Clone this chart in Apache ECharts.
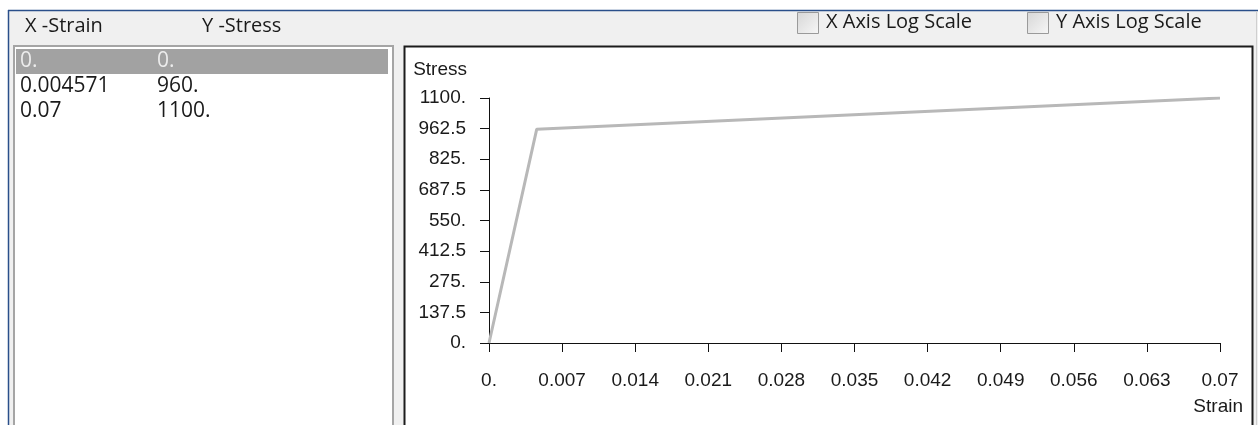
<!DOCTYPE html>
<html>
<head>
<meta charset="utf-8">
<script src="https://cdn.jsdelivr.net/npm/echarts@6/dist/echarts.min.js"></script>
<style>
  html, body { margin: 0; padding: 0; background: #ffffff; }
  #chart { width: 1258px; height: 425px; }
</style>
</head>
<body>
<div id="chart"></div>
<script>
// Material curve points (strain, stress)
const xStrain = [0, 0.004571, 0.07];
const yStress = [0, 960, 1100];

// Axis tick labels
const xTickLabels = ['0.', '0.007', '0.014', '0.021', '0.028', '0.035', '0.042', '0.049', '0.056', '0.063', '0.07'];
const yTickLabels = ['0.', '137.5', '275.', '412.5', '550.', '687.5', '825.', '962.5', '1100.'];

// Panel texts
const columnTitles = ['X -Strain', 'Y -Stress'];
const optionLabels = ['X Axis Log Scale', 'Y Axis Log Scale'];
const axisNames = ['Strain', 'Stress'];

const plotFont = '"Liberation Sans", Arial, sans-serif';
const uiFont = '"Open Sans", "Noto Sans", sans-serif';

// Values in the list are written with a trailing dot when they are whole numbers
function fmt(v) {
  return Number.isInteger(v) ? v + '.' : String(v);
}

const graphics = [];

// Dialog panel background and frame
graphics.push({ type: 'rect', z: 0, shape: { x: 8, y: 10, width: 1250, height: 420 }, style: { fill: '#f0f0f0' } });
graphics.push({ type: 'line', z: 1, shape: { x1: 8, y1: 10.5, x2: 1258, y2: 10.5 }, style: { stroke: '#2a4f8a', lineWidth: 1.5 } });
graphics.push({ type: 'line', z: 1, shape: { x1: 8.5, y1: 10, x2: 8.5, y2: 425 }, style: { stroke: '#2a4f8a', lineWidth: 1.5 } });
graphics.push({ type: 'line', z: 1, shape: { x1: 1256.5, y1: 11, x2: 1256.5, y2: 425 }, style: { stroke: '#cfcfcf', lineWidth: 1 } });

// Column headers
columnTitles.forEach(function (t, i) {
  graphics.push({ type: 'text', z: 2, style: { x: [25, 202][i], y: 26, text: t, font: '20px ' + uiFont, fill: '#1a1a1a', textVerticalAlign: 'middle' } });
});

// Log scale option checkboxes
optionLabels.forEach(function (t, i) {
  const bx = [797, 1027][i];
  graphics.push({
    type: 'rect', z: 2, shape: { x: bx + 0.5, y: 12.5, width: 21, height: 21 },
    style: {
      stroke: '#9a9a9a', lineWidth: 1,
      fill: { type: 'linear', x: 0, y: 0, x2: 1, y2: 1, colorStops: [{ offset: 0, color: '#d6d6d6' }, { offset: 1, color: '#f7f7f7' }] }
    }
  });
  graphics.push({ type: 'text', z: 2, style: { x: bx + 29, y: 22, text: t, font: '20px ' + uiFont, fill: '#1a1a1a', textVerticalAlign: 'middle' } });
});

// Data list box
graphics.push({ type: 'rect', z: 1, shape: { x: 14, y: 46, width: 379, height: 400 }, style: { fill: '#ffffff', stroke: '#a5a5a5', lineWidth: 2 } });
graphics.push({ type: 'rect', z: 2, shape: { x: 16, y: 49, width: 372, height: 25 }, style: { fill: '#a2a2a2' } });
xStrain.forEach(function (xv, i) {
  const y = 61.5 + i * 25;
  const col = i === 0 ? '#ececec' : '#1a1a1a';
  graphics.push({ type: 'text', z: 3, style: { x: 20, y: y, text: fmt(xv), font: '21px ' + uiFont, fill: col, textVerticalAlign: 'middle' } });
  graphics.push({ type: 'text', z: 3, style: { x: 157, y: y, text: fmt(yStress[i]), font: '21px ' + uiFont, fill: col, textVerticalAlign: 'middle' } });
});

// Plot box
graphics.push({ type: 'rect', z: 1, shape: { x: 404.5, y: 46.5, width: 848, height: 400 }, style: { fill: '#ffffff', stroke: '#1c1c1c', lineWidth: 2 } });

const chart = echarts.init(document.getElementById('chart'), null, { renderer: 'canvas' });

const labelStyle = { color: '#1a1a1a', fontFamily: plotFont, fontSize: 19, lineHeight: 19 };
const axisLineStyle = { color: '#111111', width: 1 };

chart.setOption({
  animation: false,
  backgroundColor: '#ffffff',
  graphic: { elements: graphics },
  grid: { left: 489, top: 98, right: 38, bottom: 82, containLabel: false, outerBoundsMode: 'none' },
  xAxis: {
    type: 'value',
    min: 0, max: 0.07, interval: 0.007,
    z: 10,
    name: axisNames[0],
    nameLocation: 'end',
    nameGap: 23,
    nameMoveOverlap: false,
    nameTextStyle: { color: '#1a1a1a', fontFamily: plotFont, fontSize: 19, lineHeight: 19, align: 'right', verticalAlign: 'top', padding: [54, 0, 0, 0] },
    axisLine: { show: true, onZero: false, lineStyle: axisLineStyle },
    axisTick: { show: true, length: 9, inside: false, lineStyle: axisLineStyle },
    splitLine: { show: false },
    axisLabel: Object.assign({ margin: 28, hideOverlap: false, showMinLabel: true, showMaxLabel: true,
      formatter: function (v, i) { return xTickLabels[i]; } }, labelStyle)
  },
  yAxis: {
    type: 'value',
    min: 0, max: 1100, interval: 137.5,
    z: 10,
    name: axisNames[1],
    nameLocation: 'end',
    nameGap: 0,
    nameMoveOverlap: false,
    nameTextStyle: { color: '#1a1a1a', fontFamily: plotFont, fontSize: 19, lineHeight: 19, align: 'right', verticalAlign: 'bottom', padding: [0, 22, 19, 0] },
    axisLine: { show: true, onZero: false, lineStyle: axisLineStyle },
    axisTick: { show: true, length: 9, inside: false, lineStyle: axisLineStyle },
    splitLine: { show: false },
    axisLabel: Object.assign({ margin: 23, hideOverlap: false, showMinLabel: true, showMaxLabel: true,
      formatter: function (v, i) { return yTickLabels[i]; } }, labelStyle)
  },
  series: [{
    type: 'line',
    z: 12,
    data: xStrain.map(function (x, i) { return [x, yStress[i]]; }),
    showSymbol: false,
    symbol: 'none',
    lineStyle: { color: '#b8b8b8', width: 3 },
    silent: true
  }]
});
</script>
</body>
</html>
